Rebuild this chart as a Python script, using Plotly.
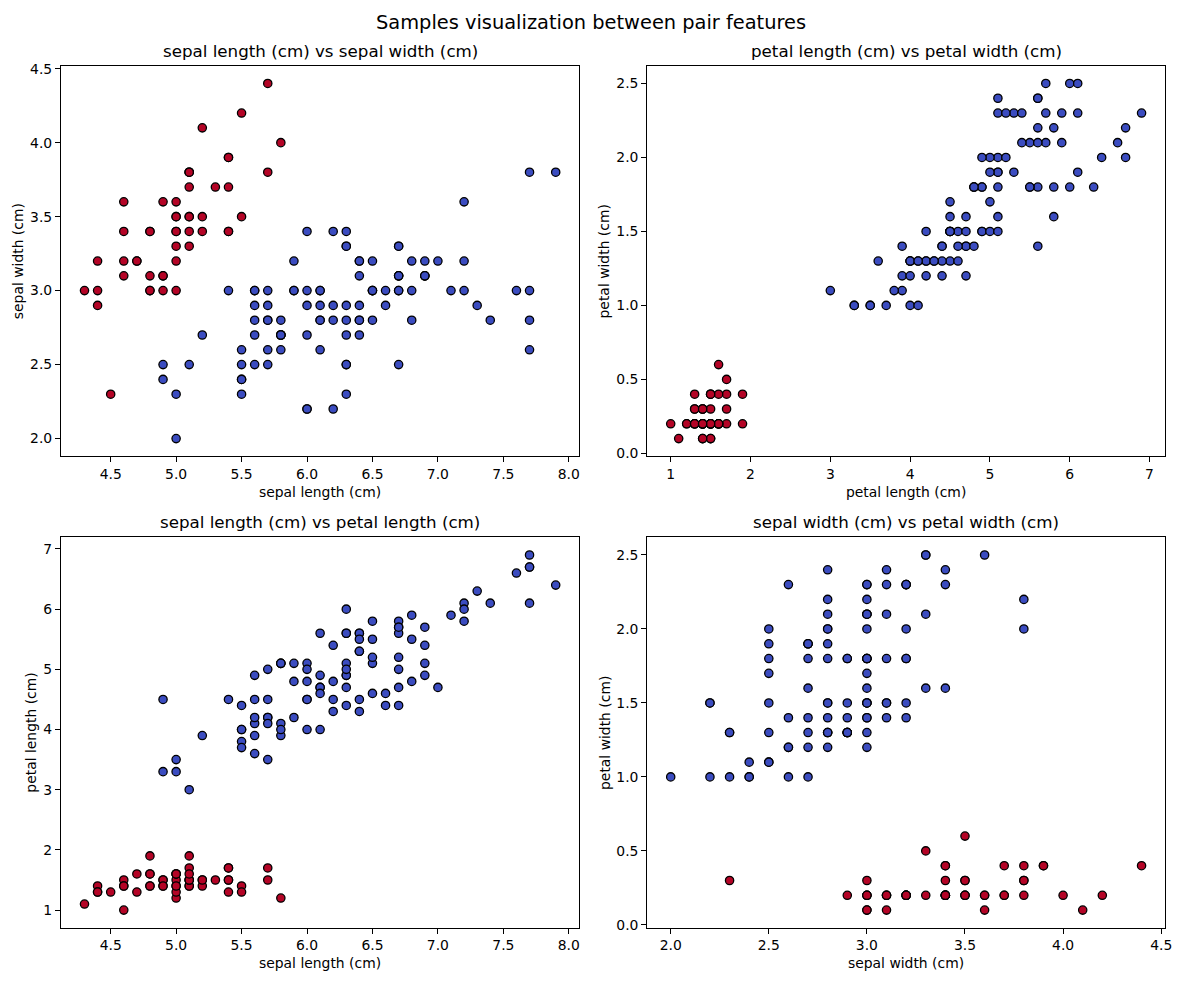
import plotly.graph_objects as go

# Iris data (150 samples)
sepal_length = [5.1,4.9,4.7,4.6,5.0,5.4,4.6,5.0,4.4,4.9,5.4,4.8,4.8,4.3,5.8,5.7,5.4,5.1,5.7,5.1,
                5.4,5.1,4.6,5.1,4.8,5.0,5.0,5.2,5.2,4.7,4.8,5.4,5.2,5.5,4.9,5.0,5.5,4.9,4.4,5.1,
                5.0,4.5,4.4,5.0,5.1,4.8,5.1,4.6,5.3,5.0,
                7.0,6.4,6.9,5.5,6.5,5.7,6.3,4.9,6.6,5.2,5.0,5.9,6.0,6.1,5.6,6.7,5.6,5.8,6.2,5.6,
                5.9,6.1,6.3,6.1,6.4,6.6,6.8,6.7,6.0,5.7,5.5,5.5,5.8,6.0,5.4,6.0,6.7,6.3,5.6,5.5,
                5.5,6.1,5.8,5.0,5.6,5.7,5.7,6.2,5.1,5.7,
                6.3,5.8,7.1,6.3,6.5,7.6,4.9,7.3,6.7,7.2,6.5,6.4,6.8,5.7,5.8,6.4,6.5,7.7,7.7,6.0,
                6.9,5.6,7.7,6.3,6.7,7.2,6.2,6.1,6.4,7.2,7.4,7.9,6.4,6.3,6.1,7.7,6.3,6.4,6.0,6.9,
                6.7,6.9,5.8,6.8,6.7,6.7,6.3,6.5,6.2,5.9]
sepal_width = [3.5,3.0,3.2,3.1,3.6,3.9,3.4,3.4,2.9,3.1,3.7,3.4,3.0,3.0,4.0,4.4,3.9,3.5,3.8,3.8,
               3.4,3.7,3.6,3.3,3.4,3.0,3.4,3.5,3.4,3.2,3.1,3.4,4.1,4.2,3.1,3.2,3.5,3.6,3.0,3.4,
               3.5,2.3,3.2,3.5,3.8,3.0,3.8,3.2,3.7,3.3,
               3.2,3.2,3.1,2.3,2.8,2.8,3.3,2.4,2.9,2.7,2.0,3.0,2.2,2.9,2.9,3.1,3.0,2.7,2.2,2.5,
               3.2,2.8,2.5,2.8,2.9,3.0,2.8,3.0,2.9,2.6,2.4,2.4,2.7,2.7,3.0,3.4,3.1,2.3,3.0,2.5,
               2.6,3.0,2.6,2.3,2.7,3.0,2.9,2.9,2.5,2.8,
               3.3,2.7,3.0,2.9,3.0,3.0,2.5,2.9,2.5,3.6,3.2,2.7,3.0,2.5,2.8,3.2,3.0,3.8,2.6,2.2,
               3.2,2.8,2.8,2.7,3.3,3.2,2.8,3.0,2.8,3.0,2.8,3.8,2.8,2.8,2.6,3.0,3.4,3.1,3.0,3.1,
               3.1,3.1,2.7,3.2,3.3,3.0,2.5,3.0,3.4,3.0]
petal_length = [1.4,1.4,1.3,1.5,1.4,1.7,1.4,1.5,1.4,1.5,1.5,1.6,1.4,1.1,1.2,1.5,1.3,1.4,1.7,1.5,
                1.7,1.5,1.0,1.7,1.9,1.6,1.6,1.5,1.4,1.6,1.6,1.5,1.5,1.4,1.5,1.2,1.3,1.4,1.3,1.5,
                1.3,1.3,1.3,1.6,1.9,1.4,1.6,1.4,1.5,1.4,
                4.7,4.5,4.9,4.0,4.6,4.5,4.7,3.3,4.6,3.9,3.5,4.2,4.0,4.7,3.6,4.4,4.5,4.1,4.5,3.9,
                4.8,4.0,4.9,4.7,4.3,4.4,4.8,5.0,4.5,3.5,3.8,3.7,3.9,5.1,4.5,4.5,4.7,4.4,4.1,4.0,
                4.4,4.6,4.0,3.3,4.2,4.2,4.2,4.3,3.0,4.1,
                6.0,5.1,5.9,5.6,5.8,6.6,4.5,6.3,5.8,6.1,5.1,5.3,5.5,5.0,5.1,5.3,5.5,6.7,6.9,5.0,
                5.7,4.9,6.7,4.9,5.7,6.0,4.8,4.9,5.6,5.8,6.1,6.4,5.6,5.1,5.6,6.1,5.6,5.5,4.8,5.4,
                5.6,5.1,5.1,5.9,5.7,5.2,5.0,5.2,5.4,5.1]
petal_width = [0.2,0.2,0.2,0.2,0.2,0.4,0.3,0.2,0.2,0.1,0.2,0.2,0.1,0.1,0.2,0.4,0.4,0.3,0.3,0.3,
               0.2,0.4,0.2,0.5,0.2,0.2,0.4,0.2,0.2,0.2,0.2,0.4,0.1,0.2,0.2,0.2,0.2,0.1,0.2,0.2,
               0.3,0.3,0.2,0.6,0.4,0.3,0.2,0.2,0.2,0.2,
               1.4,1.5,1.5,1.3,1.5,1.3,1.6,1.0,1.3,1.4,1.0,1.5,1.0,1.4,1.3,1.4,1.5,1.0,1.5,1.1,
               1.8,1.3,1.5,1.2,1.3,1.4,1.4,1.7,1.5,1.0,1.1,1.0,1.2,1.6,1.5,1.6,1.5,1.3,1.3,1.3,
               1.2,1.4,1.2,1.0,1.3,1.2,1.3,1.3,1.1,1.3,
               2.5,1.9,2.1,1.8,2.2,2.1,1.7,1.8,1.8,2.5,2.0,1.9,2.1,2.0,2.4,2.3,1.8,2.2,2.3,1.5,
               2.3,2.0,2.0,1.8,2.1,1.8,1.8,1.8,2.1,1.6,1.9,2.0,2.2,1.5,1.4,2.3,2.4,1.8,1.8,2.1,
               2.4,2.3,1.9,2.3,2.5,2.3,1.9,2.0,2.3,1.8]
species = [0]*50 + [1]*50 + [2]*50

features = {
    "sepal length (cm)": sepal_length,
    "sepal width (cm)": sepal_width,
    "petal length (cm)": petal_length,
    "petal width (cm)": petal_width,
}
pairs = [("sepal length (cm)", "sepal width (cm)"),
         ("petal length (cm)", "petal width (cm)"),
         ("sepal length (cm)", "petal length (cm)"),
         ("sepal width (cm)", "petal width (cm)")]
tick_vals = {
    "sepal length (cm)": [4.5, 5.0, 5.5, 6.0, 6.5, 7.0, 7.5, 8.0],
    "sepal width (cm)": [2.0, 2.5, 3.0, 3.5, 4.0, 4.5],
    "petal length (cm)": [1, 2, 3, 4, 5, 6, 7],
    "petal width (cm)": [0.0, 0.5, 1.0, 1.5, 2.0, 2.5],
}
tick_text = {
    "sepal length (cm)": ["4.5", "5.0", "5.5", "6.0", "6.5", "7.0", "7.5", "8.0"],
    "sepal width (cm)": ["2.0", "2.5", "3.0", "3.5", "4.0", "4.5"],
    "petal length (cm)": ["1", "2", "3", "4", "5", "6", "7"],
    "petal width (cm)": ["0.0", "0.5", "1.0", "1.5", "2.0", "2.5"],
}
RED = "#b40426"
BLUE = "#3b4cc0"
colors = [RED if s == 0 else BLUE for s in species]

W, H = 1189, 985
# axes boxes in pixels: (left, right, top, bottom)
boxes = [(61.3, 582.7, 61.3, 456.0), (651.0, 1172.0, 61.3, 456.0),
         (61.3, 582.7, 537.7, 932.3), (651.0, 1172.0, 537.7, 932.3)]
FONT = "DejaVu Sans"

def px(x):
    return x / W

def py(y):
    return 1 - y / H

def rng(v):
    lo, hi = min(v), max(v)
    m = (hi - lo) * 0.05
    return [lo - m, hi + m]

fig = go.Figure()
annotations = []
for i, ((fx, fy), (l, r, t, b)) in enumerate(zip(pairs, boxes)):
    n = "" if i == 0 else str(i + 1)
    fig.add_trace(go.Scatter(
        x=features[fx], y=features[fy], mode="markers",
        marker=dict(size=8.3, color=colors, line=dict(color="black", width=1.3)),
        xaxis="x" + n, yaxis="y" + n, showlegend=False, hoverinfo="skip"))
    axcommon = dict(showgrid=False, zeroline=False, showline=True, mirror=True,
                    linecolor="black", linewidth=1.1, ticks="outside", ticklen=4.9,
                    tickwidth=1.1, tickcolor="black",
                    tickfont=dict(family=FONT, size=13.9, color="black"))
    fig.update_layout(**{
        "xaxis" + n: dict(domain=[px(l), px(r)], range=rng(features[fx]),
                          tickvals=tick_vals[fx], ticktext=tick_text[fx],
                          anchor="y" + n, **axcommon),
        "yaxis" + n: dict(domain=[py(b), py(t)], range=rng(features[fy]),
                          tickvals=tick_vals[fy], ticktext=tick_text[fy],
                          anchor="x" + n, **axcommon),
    })
    # subplot title
    annotations.append(dict(text=f"{fx} vs {fy}", x=px((l + r) / 2), y=py(t - 15),
                            xref="paper", yref="paper", xanchor="center", yanchor="middle",
                            showarrow=False, font=dict(family=FONT, size=16.7, color="black")))
    # x label
    annotations.append(dict(text=fx, x=px((l + r) / 2), y=py(b + 36),
                            xref="paper", yref="paper", xanchor="center", yanchor="middle",
                            showarrow=False, font=dict(family=FONT, size=13.9, color="black")))
    # y label
    ylab_x = l - 43 if i in (0, 1, 3) else l - 31
    annotations.append(dict(text=fy, x=px(ylab_x), y=py((t + b) / 2),
                            xref="paper", yref="paper", xanchor="center", yanchor="middle",
                            textangle=-90, showarrow=False,
                            font=dict(family=FONT, size=13.9, color="black")))

annotations.append(dict(text="Samples visualization between pair features",
                        x=0.5, y=py(18), xref="paper", yref="paper",
                        xanchor="center", yanchor="middle", showarrow=False,
                        font=dict(family=FONT, size=19.4, color="black")))

fig.update_layout(width=W, height=H, margin=dict(l=0, r=0, t=0, b=0),
                  paper_bgcolor="white", plot_bgcolor="white",
                  annotations=annotations, font=dict(family=FONT))
fig.write_html("out.html")
